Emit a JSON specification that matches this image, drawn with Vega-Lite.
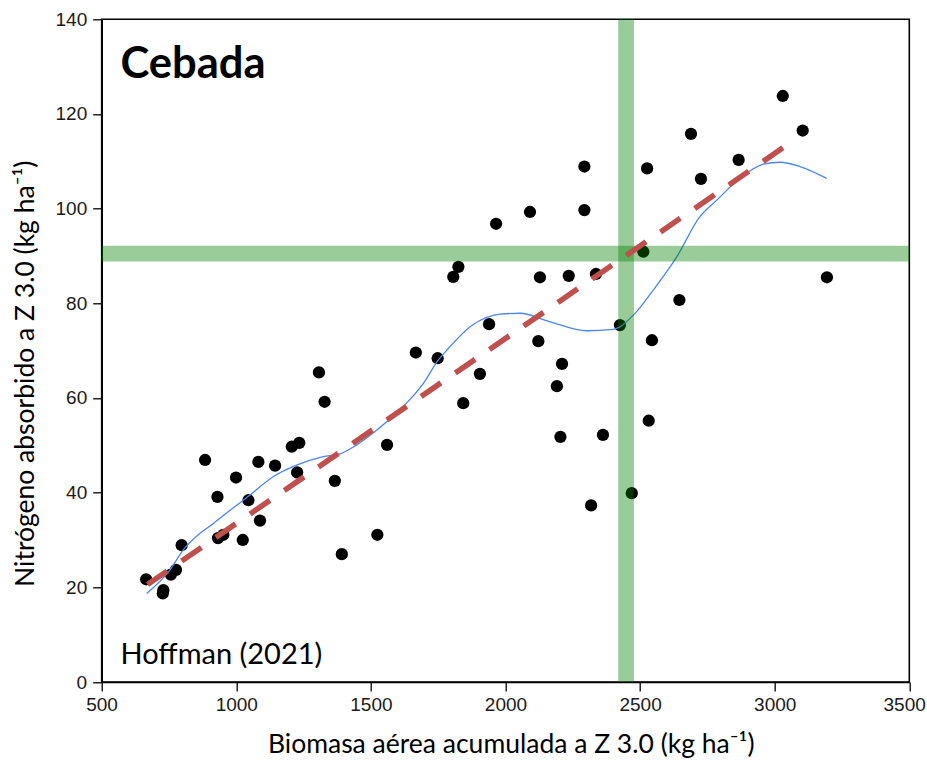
{
  "$schema": "https://vega.github.io/schema/vega-lite/v6.json",
  "autosize": "none",
  "width": 807.6,
  "height": 662.7,
  "padding": {"left": 101.7, "top": 19.3, "right": 17.7, "bottom": 80},
  "background": "white",
  "config": {
    "view": {"stroke": "black", "strokeWidth": 1.6},
    "axis": {
      "grid": false,
      "domainColor": "black",
      "domainWidth": 1.6,
      "tickColor": "black",
      "tickWidth": 1.3,
      "tickSize": 9,
      "labelFont": "Liberation Sans",
      "labelFontSize": 19,
      "labelColor": "#1a1a1a",
      "titleFont": "Lato",
      "titleFontWeight": "normal",
      "titleFontSize": 26.5,
      "titleColor": "black"
    }
  },
  "datasets": {
    "points": [
      {"biomasa": 1965, "n": 96.8}, {"biomasa": 1825, "n": 87.7}, {"biomasa": 1806, "n": 85.6},
      {"biomasa": 1939, "n": 75.6}, {"biomasa": 1667, "n": 69.6}, {"biomasa": 3030, "n": 123.8},
      {"biomasa": 3104, "n": 116.5}, {"biomasa": 2689, "n": 115.8}, {"biomasa": 2866, "n": 110.3},
      {"biomasa": 2293, "n": 108.9}, {"biomasa": 2526, "n": 108.5}, {"biomasa": 2726, "n": 106.3},
      {"biomasa": 2091, "n": 99.3}, {"biomasa": 2293, "n": 99.7}, {"biomasa": 2512, "n": 90.9},
      {"biomasa": 3194, "n": 85.5}, {"biomasa": 2128, "n": 85.5}, {"biomasa": 2235, "n": 85.8},
      {"biomasa": 2336, "n": 86.2}, {"biomasa": 2646, "n": 80.7}, {"biomasa": 2425, "n": 75.4},
      {"biomasa": 2122, "n": 72.0}, {"biomasa": 2544, "n": 72.2}, {"biomasa": 2210, "n": 67.2},
      {"biomasa": 2191, "n": 62.5}, {"biomasa": 2532, "n": 55.2}, {"biomasa": 2204, "n": 51.8},
      {"biomasa": 2362, "n": 52.2}, {"biomasa": 2469, "n": 39.9}, {"biomasa": 2318, "n": 37.3},
      {"biomasa": 1748, "n": 68.4}, {"biomasa": 1905, "n": 65.1}, {"biomasa": 1307, "n": 65.4},
      {"biomasa": 1328, "n": 59.2}, {"biomasa": 1843, "n": 58.9}, {"biomasa": 1560, "n": 50.1},
      {"biomasa": 1234, "n": 50.5}, {"biomasa": 1206, "n": 49.7}, {"biomasa": 884, "n": 46.9},
      {"biomasa": 1082, "n": 46.5}, {"biomasa": 1144, "n": 45.7}, {"biomasa": 999, "n": 43.2},
      {"biomasa": 1226, "n": 44.3}, {"biomasa": 1366, "n": 42.5}, {"biomasa": 930, "n": 39.1},
      {"biomasa": 1045, "n": 38.4}, {"biomasa": 1088, "n": 34.1}, {"biomasa": 932, "n": 30.4},
      {"biomasa": 952, "n": 31.1}, {"biomasa": 1024, "n": 30.0}, {"biomasa": 1524, "n": 31.1},
      {"biomasa": 1392, "n": 27.0}, {"biomasa": 797, "n": 28.9}, {"biomasa": 776, "n": 23.7},
      {"biomasa": 757, "n": 22.7}, {"biomasa": 665, "n": 21.7}, {"biomasa": 729, "n": 19.4},
      {"biomasa": 727, "n": 18.7}
    ],
    "smooth": [
      {"biomasa": 667, "n": 18.7}, {"biomasa": 754, "n": 23.7}, {"biomasa": 803, "n": 27.9},
      {"biomasa": 865, "n": 31.4}, {"biomasa": 915, "n": 33.5}, {"biomasa": 977, "n": 36.3},
      {"biomasa": 1051, "n": 39.5}, {"biomasa": 1138, "n": 43.4}, {"biomasa": 1224, "n": 45.8},
      {"biomasa": 1323, "n": 47.6}, {"biomasa": 1385, "n": 48.2}, {"biomasa": 1447, "n": 50.1},
      {"biomasa": 1521, "n": 53.2}, {"biomasa": 1620, "n": 58.2}, {"biomasa": 1695, "n": 63.1},
      {"biomasa": 1750, "n": 68.0}, {"biomasa": 1782, "n": 70.1}, {"biomasa": 1875, "n": 75.3},
      {"biomasa": 1980, "n": 77.7}, {"biomasa": 2054, "n": 77.9}, {"biomasa": 2165, "n": 76.1},
      {"biomasa": 2302, "n": 74.2}, {"biomasa": 2400, "n": 74.5}, {"biomasa": 2475, "n": 77.5},
      {"biomasa": 2549, "n": 82.8}, {"biomasa": 2636, "n": 89.8}, {"biomasa": 2722, "n": 98.3},
      {"biomasa": 2785, "n": 101.8}, {"biomasa": 2871, "n": 106.4}, {"biomasa": 2958, "n": 109.4},
      {"biomasa": 3020, "n": 109.8}, {"biomasa": 3094, "n": 108.9}, {"biomasa": 3193, "n": 106.4}
    ],
    "fit": [
      {"biomasa": 670, "n": 20.6},
      {"biomasa": 3060, "n": 114.0}
    ],
    "refX": [{"biomasa": 2448}],
    "refY": [{"n": 90.5}],
    "titulo": [{"biomasa": 570, "n": 127.5, "texto": "Cebada"}],
    "fuente": [{"biomasa": 570, "n": 3.9, "texto": "Hoffman (2021)"}]
  },
  "encoding": {
    "x": {
      "field": "biomasa",
      "type": "quantitative",
      "scale": {"domain": [500, 3500], "nice": false, "zero": false},
      "axis": {
        "title": "Biomasa aérea acumulada a Z 3.0 (kg ha⁻¹)",
        "values": [500, 1000, 1500, 2000, 2500, 3000, 3500],
        "format": "d",
        "labelPadding": 4,
        "labelFlush": true,
        "labelFlushOffset": 16,
        "titleX": 409,
        "titleY": 70,
        "titleBaseline": "alphabetic",
        "titleAlign": "center"
      }
    },
    "y": {
      "field": "n",
      "type": "quantitative",
      "scale": {"domain": [0, 140], "nice": false},
      "axis": {
        "title": "Nitrógeno absorbido a Z 3.0 (kg ha⁻¹)",
        "values": [0, 20, 40, 60, 80, 100, 120, 140],
        "format": "d",
        "labelPadding": 6,
        "labelFlush": false,
        "titleAngle": 270,
        "titleX": -68.7,
        "titleY": 354,
        "titleAlign": "center",
        "titleBaseline": "alphabetic"
      }
    }
  },
  "layer": [
    {
      "data": {"name": "points"},
      "mark": {"type": "point", "shape": "circle", "filled": true, "color": "black", "opacity": 1, "size": 150}
    },
    {
      "data": {"name": "smooth"},
      "mark": {"type": "line", "interpolate": "monotone", "color": "#4a86f0", "strokeWidth": 1.3}
    },
    {
      "data": {"name": "refX"},
      "mark": {"type": "rule", "color": "#008000", "opacity": 0.4, "strokeWidth": 15.7},
      "encoding": {"y": null}
    },
    {
      "data": {"name": "refY"},
      "mark": {"type": "rule", "color": "#008000", "opacity": 0.4, "strokeWidth": 15.7},
      "encoding": {"x": null}
    },
    {
      "data": {"name": "fit"},
      "mark": {"type": "line", "color": "#c0504d", "strokeWidth": 5.5, "strokeDash": [24, 17.5], "strokeCap": "butt"}
    },
    {
      "data": {"name": "titulo"},
      "mark": {"type": "text", "align": "left", "baseline": "alphabetic", "font": "Lato", "fontWeight": "bold", "fontSize": 43.5, "color": "black"},
      "encoding": {"text": {"field": "texto"}}
    },
    {
      "data": {"name": "fuente"},
      "mark": {"type": "text", "align": "left", "baseline": "alphabetic", "font": "Lato", "fontSize": 29, "color": "black"},
      "encoding": {"text": {"field": "texto"}}
    }
  ]
}
